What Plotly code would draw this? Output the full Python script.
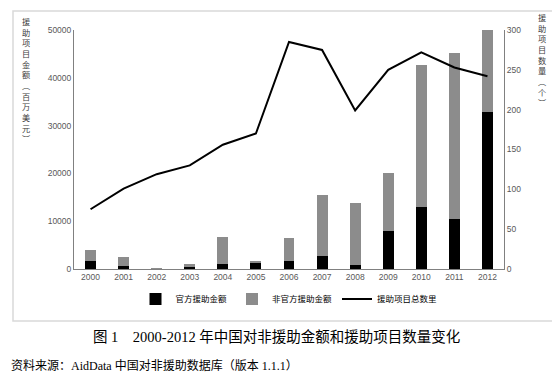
import plotly.graph_objects as go

years = ["2000", "2001", "2002", "2003", "2004", "2005", "2006",
         "2007", "2008", "2009", "2010", "2011", "2012"]
official = [1760, 560, 150, 500, 1050, 1300, 1760, 2780, 780, 7880, 12900, 10540, 32780]
total_amount = [3900, 2450, 200, 1000, 6630, 1700, 6560, 15560, 13740, 20080, 42760, 45130, 50000]
unofficial = [t - o for t, o in zip(total_amount, official)]
project_count = [75, 101, 119, 130, 156, 170, 285, 275, 199, 250, 272, 253, 242]

W, H = 560, 378
L, R, T, B = 66, 496, 22, 261  # plot area in pixels


def px(x):
    return (x - L) / (R - L)


def py(y):
    return (B - y) / (B - T)


fig = go.Figure()
fig.add_trace(go.Bar(x=years, y=official, name="官方援助金额",
                     marker=dict(color="#000000", line=dict(width=0))))
fig.add_trace(go.Bar(x=years, y=unofficial, name="非官方援助金额",
                     marker=dict(color="#8c8c8c", line=dict(width=0))))
fig.add_trace(go.Scatter(x=years, y=project_count, name="援助项目总数里", yaxis="y2",
                         mode="lines", line=dict(color="#000000", width=2)))

tick_font = dict(family="Liberation Sans, Arial, sans-serif", size=8.5, color="#595959")
cjk = "Noto Sans CJK SC, sans-serif"

fig.update_layout(
    width=W, height=H,
    margin=dict(l=L, r=W - R, t=T, b=H - B),
    paper_bgcolor="white", plot_bgcolor="white",
    barmode="stack", bargap=0.67,
    showlegend=True,
    legend=dict(orientation="h", x=0.5, xanchor="center", y=py(291), yanchor="middle",
                traceorder="normal",
                font=dict(family=cjk, size=8.5, color="#000000"),
                itemwidth=30, tracegroupgap=0, bgcolor="rgba(0,0,0,0)"),
    xaxis=dict(type="category", showline=True, linecolor="#808080", linewidth=1,
               showgrid=False, ticks="", tickfont=tick_font, fixedrange=True),
    yaxis=dict(range=[0, 50000], dtick=10000, showline=True, linecolor="#808080",
               linewidth=1, showgrid=False, zeroline=False, ticks="",
               tickfont=tick_font, tickformat="d"),
    yaxis2=dict(range=[0, 300], dtick=50, overlaying="y", side="right",
                showline=True, linecolor="#808080", linewidth=1, showgrid=False,
                zeroline=False, ticks="", tickfont=tick_font),
    font=dict(family=cjk),
)

fig.add_shape(type="rect", xref="paper", yref="paper",
              x0=px(5), x1=px(554), y0=py(313), y1=py(3),
              line=dict(color="#d9d9d9", width=1.5), layer="below")

left_title = "援助项目金额︵百万美元︶"
right_title = "援助项目数量︵个︶"
fig.add_annotation(text="<br>".join(left_title), xref="paper", yref="paper",
                   x=px(18), y=py(5), xanchor="center", yanchor="top",
                   showarrow=False, font=dict(family=cjk, size=8.2, color="#404040"))
fig.add_annotation(text="<br>".join(right_title), xref="paper", yref="paper",
                   x=px(534), y=py(1), xanchor="center", yanchor="top",
                   showarrow=False, font=dict(family=cjk, size=8.2, color="#404040"))

fig.add_annotation(text="图 1　2000-2012 年中国对非援助金额和援助项目数量变化",
                   xref="paper", yref="paper", x=px(268), y=py(329),
                   xanchor="center", yanchor="middle", showarrow=False,
                   font=dict(family="Liberation Serif, Noto Sans CJK SC, serif", size=14.5, color="#000000"))
fig.add_annotation(text="资料来源：AidData 中国对非援助数据库（版本 1.1.1）",
                   xref="paper", yref="paper", x=px(1), y=py(357),
                   xanchor="left", yanchor="middle", showarrow=False,
                   font=dict(family="Liberation Serif, Noto Sans CJK SC, serif", size=12, color="#000000"))

fig.write_html("out.html")
